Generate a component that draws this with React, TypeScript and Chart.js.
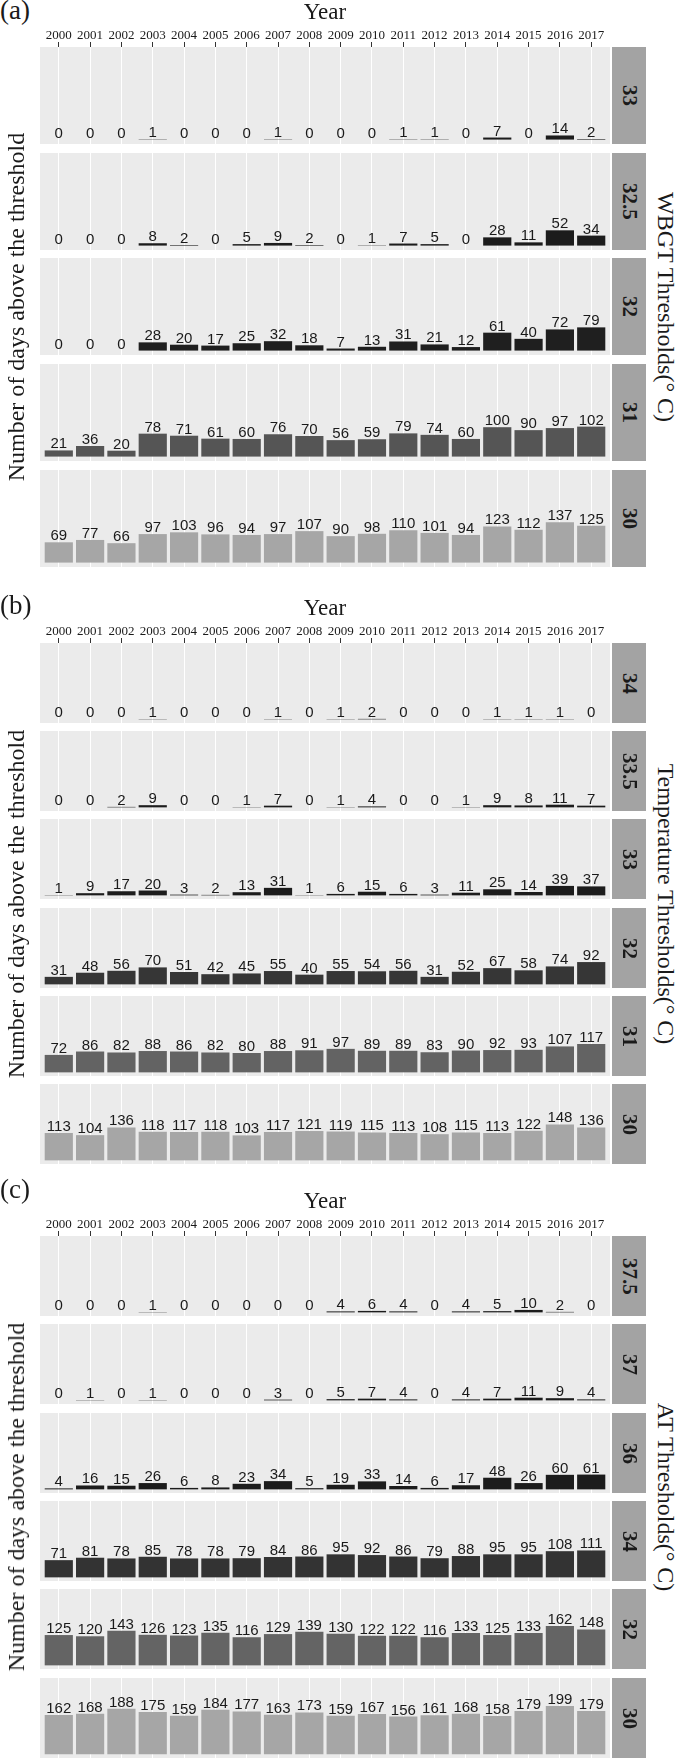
import React, { useEffect, useRef } from "react";
import { Chart, registerables } from "chart.js";

Chart.register(...registerables);

// ---------------- data ----------------
const years = ["2000", "2001", "2002", "2003", "2004", "2005", "2006", "2007", "2008", "2009", "2010", "2011", "2012", "2013", "2014", "2015", "2016", "2017"];

// (a) WBGT thresholds
const wbgtThresholds = ["33", "32.5", "32", "31", "30"];
const wbgt33 = [0, 0, 0, 1, 0, 0, 0, 1, 0, 0, 0, 1, 1, 0, 7, 0, 14, 2];
const wbgt325 = [0, 0, 0, 8, 2, 0, 5, 9, 2, 0, 1, 7, 5, 0, 28, 11, 52, 34];
const wbgt32 = [0, 0, 0, 28, 20, 17, 25, 32, 18, 7, 13, 31, 21, 12, 61, 40, 72, 79];
const wbgt31 = [21, 36, 20, 78, 71, 61, 60, 76, 70, 56, 59, 79, 74, 60, 100, 90, 97, 102];
const wbgt30 = [69, 77, 66, 97, 103, 96, 94, 97, 107, 90, 98, 110, 101, 94, 123, 112, 137, 125];
const wbgtColors = ["#1c1c1c", "#1c1c1c", "#1f1f1f", "#555555", "#a6a6a6"];

// (b) Temperature thresholds
const tempThresholds = ["34", "33.5", "33", "32", "31", "30"];
const temp34 = [0, 0, 0, 1, 0, 0, 0, 1, 0, 1, 2, 0, 0, 0, 1, 1, 1, 0];
const temp335 = [0, 0, 2, 9, 0, 0, 1, 7, 0, 1, 4, 0, 0, 1, 9, 8, 11, 7];
const temp33 = [1, 9, 17, 20, 3, 2, 13, 31, 1, 6, 15, 6, 3, 11, 25, 14, 39, 37];
const temp32 = [31, 48, 56, 70, 51, 42, 45, 55, 40, 55, 54, 56, 31, 52, 67, 58, 74, 92];
const temp31 = [72, 86, 82, 88, 86, 82, 80, 88, 91, 97, 89, 89, 83, 90, 92, 93, 107, 117];
const temp30 = [113, 104, 136, 118, 117, 118, 103, 117, 121, 119, 115, 113, 108, 115, 113, 122, 148, 136];
const tempColors = ["#1c1c1c", "#1c1c1c", "#1c1c1c", "#363636", "#636363", "#a6a6a6"];

// (c) AT thresholds
const atThresholds = ["37.5", "37", "36", "34", "32", "30"];
const at375 = [0, 0, 0, 1, 0, 0, 0, 0, 0, 4, 6, 4, 0, 4, 5, 10, 2, 0];
const at37 = [0, 1, 0, 1, 0, 0, 0, 3, 0, 5, 7, 4, 0, 4, 7, 11, 9, 4];
const at36 = [4, 16, 15, 26, 6, 8, 23, 34, 5, 19, 33, 14, 6, 17, 48, 26, 60, 61];
const at34 = [71, 81, 78, 85, 78, 78, 79, 84, 86, 95, 92, 86, 79, 88, 95, 95, 108, 111];
const at32 = [125, 120, 143, 126, 123, 135, 116, 129, 139, 130, 122, 122, 116, 133, 125, 133, 162, 148];
const at30 = [162, 168, 188, 175, 159, 184, 177, 163, 173, 159, 167, 156, 161, 168, 158, 179, 199, 179];
const atColors = ["#1c1c1c", "#1c1c1c", "#1c1c1c", "#333333", "#646464", "#a6a6a6"];

const yTitle = "Number of days above the threshold";

// ---------------- layout ----------------
const W = 683;
const H = 1760;
const PLOT_LEFT = 40;
const PLOT_RIGHT = 610;
const STRIP_LEFT = 612;
const STRIP_W = 34;
const AXIS_SPACE = 47;

const SERIF = '"Liberation Serif", "Times New Roman", serif';
const SANS = '"Liberation Sans", Arial, sans-serif';

const panelBg = {
  id: "panelBg",
  beforeDraw(chart: any) {
    const { ctx, chartArea } = chart;
    ctx.save();
    ctx.fillStyle = "#ebebeb";
    ctx.fillRect(chartArea.left, chartArea.top, chartArea.right - chartArea.left, chartArea.bottom - chartArea.top);
    ctx.restore();
  },
};

const valueLabels = {
  id: "valueLabels",
  afterDatasetsDraw(chart: any) {
    const { ctx } = chart;
    const meta = chart.getDatasetMeta(0);
    const pts = chart.data.datasets[0].data as { x: number; y: number }[];
    ctx.save();
    ctx.font = `15px ${SANS}`;
    ctx.fillStyle = "#1a1a1a";
    ctx.textAlign = "center";
    ctx.textBaseline = "alphabetic";
    meta.data.forEach((el: any, i: number) => {
      const p = el.getProps(["x", "y"], true);
      ctx.fillText(String(pts[i].y), p.x, p.y - 2);
    });
    ctx.restore();
  },
};

function Facet(props: { values: number[]; color: string; top: number; height: number; axis: boolean }) {
  const { values, color, top, height, axis } = props;
  const ref = useRef<HTMLCanvasElement>(null);
  const canvasTop = axis ? top - AXIS_SPACE : top;
  const canvasH = axis ? height + AXIS_SPACE : height;

  useEffect(() => {
    if (!ref.current) return;
    const chart = new Chart(ref.current, {
      type: "bar",
      data: {
        datasets: [
          {
            data: values.map((v, i) => ({ x: i, y: v })),
            backgroundColor: color,
            borderWidth: 0,
            barPercentage: 0.9,
            categoryPercentage: 1,
          },
        ],
      },
      options: {
        responsive: false,
        animation: false,
        events: [],
        layout: { padding: { left: PLOT_LEFT, right: 0, top: axis ? 1 : 0, bottom: 0 } },
        plugins: { legend: { display: false }, tooltip: { enabled: false } },
        scales: {
          x: {
            type: "linear",
            position: "top",
            min: -0.6,
            max: 17.6,
            offset: false,
            grid: {
              color: "#ffffff",
              lineWidth: 1,
              offset: false,
              drawTicks: axis,
              tickLength: 5,
              tickColor: "#333333",
              tickWidth: 1,
            },
            border: { display: false },
            ticks: {
              display: axis,
              stepSize: 1,
              includeBounds: false,
              autoSkip: false,
              maxTicksLimit: 100,
              maxRotation: 0,
              minRotation: 0,
              padding: 0,
              color: "#1a1a1a",
              font: { family: SERIF, size: 13, lineHeight: 1 },
              callback: (v: any) => years[Math.round(Number(v))] ?? "",
            },
            title: {
              display: axis,
              text: "Year",
              color: "#1a1a1a",
              font: { family: SERIF, size: 23, lineHeight: 1 },
              padding: { top: 0, bottom: 5 },
            },
          },
          y: { display: false, min: -15, max: 315 },
        },
      } as any,
      plugins: [panelBg, valueLabels],
    });
    return () => chart.destroy();
  }, [values, color, axis, canvasH]);

  return (
    <canvas
      ref={ref}
      width={PLOT_RIGHT}
      height={canvasH}
      style={{ position: "absolute", left: 0, top: canvasTop, width: PLOT_RIGHT, height: canvasH }}
    />
  );
}

function Panel(props: {
  tag: string;
  tagBaseline: number;
  rightTitle: string;
  thresholds: string[];
  series: number[][];
  colors: string[];
  tops: number[];
  height: number;
}) {
  const { tag, tagBaseline, rightTitle, thresholds, series, colors, tops, height } = props;
  const first = tops[0];
  const last = tops[tops.length - 1] + height;
  const cy = (first + last) / 2;
  return (
    <>
      <div
        style={{
          position: "absolute",
          left: 0,
          top: tagBaseline - 0.8375 * 27,
          fontFamily: SERIF,
          fontSize: 27,
          lineHeight: "27px",
          color: "#1a1a1a",
          whiteSpace: "nowrap",
        }}
      >
        {tag}
      </div>
      {series.map((vals, k) => (
        <Facet key={k} values={vals} color={colors[k]} top={tops[k]} height={height} axis={k === 0} />
      ))}
      {thresholds.map((t, k) => (
        <div
          key={"s" + k}
          style={{
            position: "absolute",
            left: STRIP_LEFT,
            top: tops[k],
            width: STRIP_W,
            height: height,
            background: "#a3a3a3",
            display: "flex",
            alignItems: "center",
            justifyContent: "center",
          }}
        >
          <span
            style={{
              writingMode: "vertical-rl",
              fontFamily: SERIF,
              fontWeight: "bold",
              fontSize: 21,
              lineHeight: "21px",
              color: "#1a1a1a",
              whiteSpace: "nowrap",
            }}
          >
            {t}
          </span>
        </div>
      ))}
      <div
        style={{
          position: "absolute",
          left: 16,
          top: cy,
          transform: "translate(-50%, -50%) rotate(-90deg)",
          fontFamily: SERIF,
          fontSize: 24,
          lineHeight: "24px",
          color: "#1a1a1a",
          whiteSpace: "nowrap",
        }}
      >
        {yTitle}
      </div>
      <div
        style={{
          position: "absolute",
          left: 666,
          top: cy,
          transform: "translate(-50%, -50%)",
          writingMode: "vertical-rl",
          fontFamily: SERIF,
          fontSize: 24,
          lineHeight: "24px",
          color: "#1a1a1a",
          whiteSpace: "nowrap",
        }}
      >
        {rightTitle}
      </div>
    </>
  );
}

export default function App() {
  useEffect(() => {
    document.body.style.margin = "0";
    document.body.style.background = "#ffffff";
  }, []);
  return (
    <div style={{ position: "absolute", left: 0, top: 0, width: W, height: H, background: "#ffffff", overflow: "hidden" }}>
      <Panel
        tag="(a)"
        tagBaseline={20}
        rightTitle="WBGT Thresholds(° C)"
        thresholds={wbgtThresholds}
        series={[wbgt33, wbgt325, wbgt32, wbgt31, wbgt30]}
        colors={wbgtColors}
        tops={[47, 153, 258, 364, 470]}
        height={97}
      />
      <Panel
        tag="(b)"
        tagBaseline={615}
        rightTitle="Temperature Thresholds(° C)"
        thresholds={tempThresholds}
        series={[temp34, temp335, temp33, temp32, temp31, temp30]}
        colors={tempColors}
        tops={[643, 731, 819, 908, 996, 1084]}
        height={80}
      />
      <Panel
        tag="(c)"
        tagBaseline={1199}
        rightTitle="AT Thresholds(° C)"
        thresholds={atThresholds}
        series={[at375, at37, at36, at34, at32, at30]}
        colors={atColors}
        tops={[1236, 1324, 1413, 1501, 1589, 1678]}
        height={80}
      />
    </div>
  );
}
